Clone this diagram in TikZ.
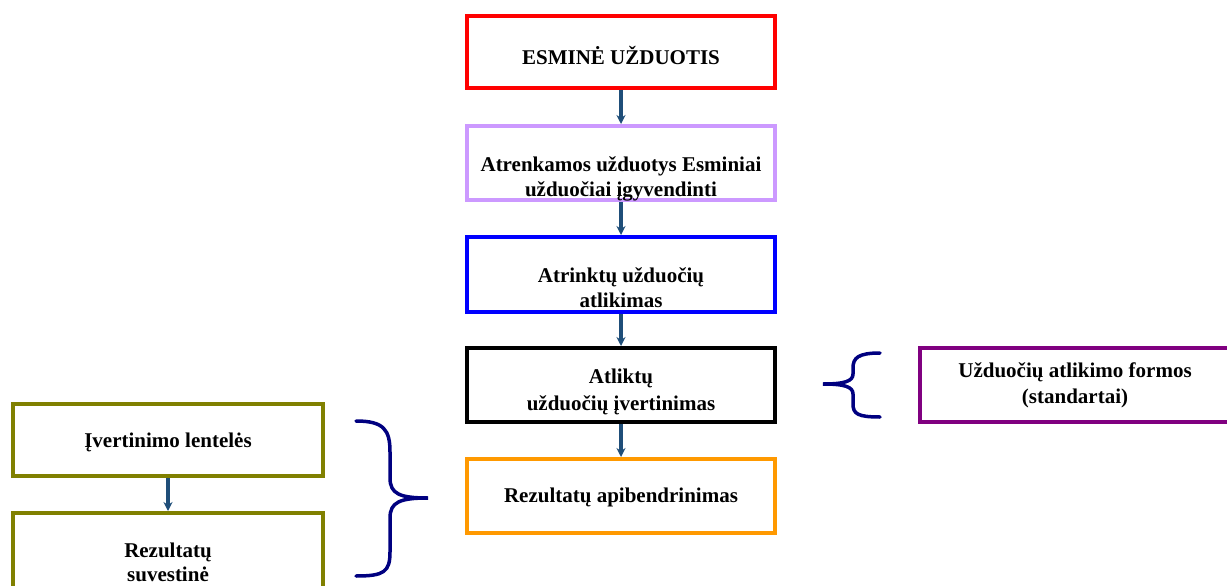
\documentclass[tikz,border=0pt]{standalone}
\usepackage{fontspec}
\setmainfont{Liberation Serif}
\usetikzlibrary{arrows.meta}
\definecolor{cred}{HTML}{FF0000}
\definecolor{clilac}{HTML}{CC99FF}
\definecolor{cblue}{HTML}{0000FF}
\definecolor{corange}{HTML}{FF9900}
\definecolor{colive}{HTML}{808000}
\definecolor{cpurple}{HTML}{800080}
\definecolor{carrow}{HTML}{1F4E79}
\definecolor{cbrace}{HTML}{000080}
\begin{document}
\begin{tikzpicture}[x=1pt,y=-1pt,
  box/.style={draw=#1,line width=4pt,fill=white,minimum width=308pt,minimum height=72pt,inner sep=0pt},
  txt/.style={font=\bfseries\fontsize{21}{25}\selectfont,align=center,inner sep=0pt},
  arr/.style={draw=carrow,line width=3.2pt,-{Stealth[length=9pt,width=9pt]}},
  brace/.style={draw=cbrace,line width=3.5pt,line cap=round}]
\useasboundingbox (0,0) rectangle (1227,586);
% main column
\node[box=cred] (b1) at (621,52) {};
\node[txt] (t1) at (621,55) {ESMINĖ UŽDUOTIS};
\node[box=clilac,minimum height=74pt] (b2) at (621,163) {};
\node[txt] (t2) at (621,179) {Atrenkamos užduotys Esminiai\\užduočiai įgyvendinti};
\node[box=cblue,minimum height=75pt] (b3) at (621,274.5) {};
\node[txt] (t3) at (621,287.5) {Atrinktų užduočių\\atlikimas};
\node[box=black,minimum height=74pt] (b4) at (621,385) {};
\node[txt,font=\bfseries\fontsize{21}{27}\selectfont] (t4) at (621,391.5) {Atliktų\\užduočių įvertinimas};
\node[box=corange,minimum height=74pt] (b5) at (621,496) {};
\node[txt] (t5) at (621,497) {Rezultatų apibendrinimas};
% left column
\node[box=colive,minimum width=310pt] (l1) at (168,440) {};
\node[txt] (tl1) at (168,442) {Įvertinimo lentelės};
\node[box=colive,minimum width=310pt,minimum height=80pt] (l2) at (168,553) {};
\node[txt,font=\bfseries\fontsize{21}{24}\selectfont] (tl2) at (168,562) {Rezultatų\\suvestinė};
% right box
\node[box=cpurple,minimum width=320pt,minimum height=74pt] (r1) at (1080,385) {};
\node[txt,font=\bfseries\fontsize{21}{26}\selectfont] (tr1) at (1075,385) {Užduočių atlikimo formos\\(standartai)};
% arrows
\draw[arr] (b1.south) -- (b2.north);
\draw[arr] (b2.south) -- (b3.north);
\draw[arr] (b3.south) -- (b4.north);
\draw[arr] (b4.south) -- (b5.north);
\draw[arr] (l1.south) -- (l2.north);
% braces
\coordinate (lbtip) at (428,498);
\draw[brace] (356,421) .. controls (384,421) and (390,430) .. (390,452) -- (390,478)
  .. controls (390,494) and (400,498) .. (lbtip)
  .. controls (400,498) and (390,502) .. (390,518) -- (390,552)
  .. controls (390,572) and (384,576) .. (356,576);
\coordinate (rbtip) at (823,384);
\draw[brace] (880,353) .. controls (858,353) and (853,358) .. (853,368) -- (853,374)
  .. controls (853,381) and (845,384) .. (rbtip)
  .. controls (845,384) and (853,387) .. (853,394) -- (853,404)
  .. controls (853,414) and (858,417) .. (880,417);
\end{tikzpicture}
\end{document}
